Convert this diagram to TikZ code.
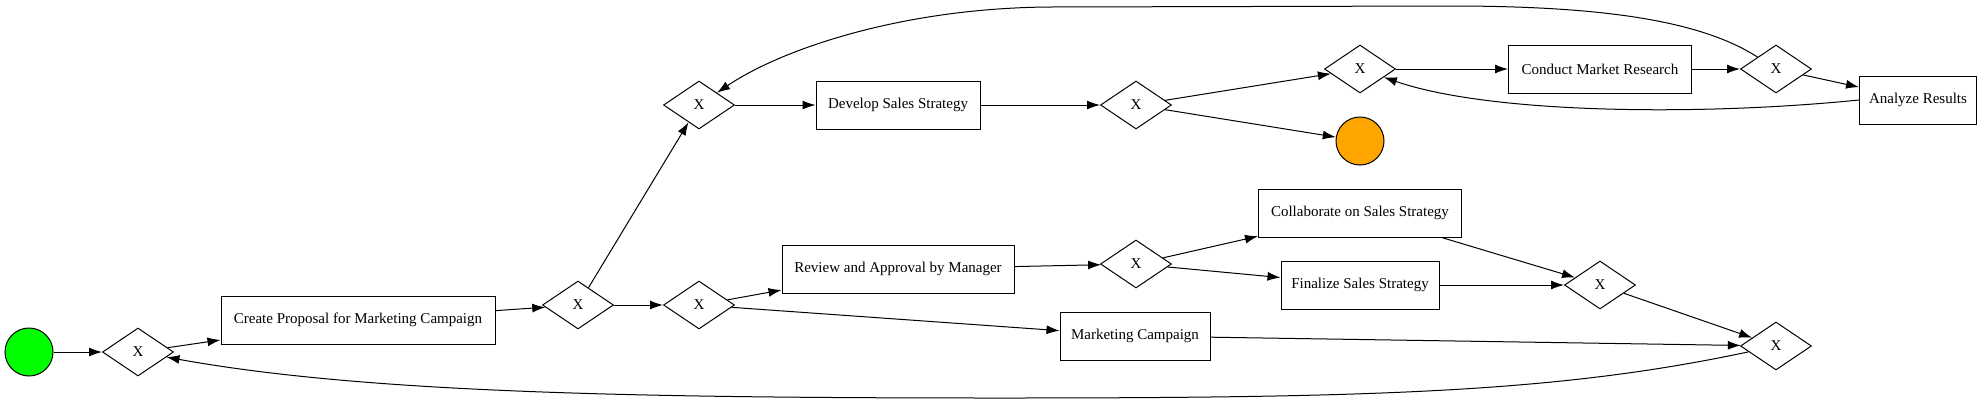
\documentclass[tikz,border=0pt]{standalone}
\usepackage{fontspec}
\setmainfont{Liberation Serif}
\usepackage{tikz}
\usetikzlibrary{shapes.geometric,arrows.meta}
\definecolor{startgreen}{RGB}{0,255,0}
\definecolor{endorange}{RGB}{255,165,0}

\begin{document}
\begin{tikzpicture}[x=0.5pt,y=-0.5pt,>={Latex[length=6.5pt,width=4.5pt]},
	every node/.style={font=\fontsize{7.5}{9}\selectfont},
	task/.style={draw,rectangle,minimum height=24pt,inner sep=0pt,line width=0.5pt},
	gate/.style={draw,diamond,minimum width=35.5pt,minimum height=24pt,inner sep=0pt,line width=0.5pt},
	event/.style={draw,circle,minimum size=24pt,inner sep=0pt,line width=0.5pt},
	flow/.style={->,line width=0.5pt}]
		\useasboundingbox (0,0) rectangle (1983,403);
		
		% the start and end events
		\node[event,fill=startgreen] (st) at (29,352) {};
		\node[event,fill=endorange] (en) at (1360,141) {};
		
		% the gateways
		\node[gate] (g1) at (138,352) {X};
		\node[gate] (g2) at (578,305) {X};
		\node[gate] (g3) at (699,105) {X};
		\node[gate] (g7) at (699,305) {X};
		\node[gate] (g4) at (1136,105) {X};
		\node[gate] (g8) at (1136,264) {X};
		\node[gate] (g5) at (1360,69) {X};
		\node[gate] (g9) at (1600,285) {X};
		\node[gate] (g6) at (1776,69) {X};
		\node[gate] (g10) at (1776,346) {X};
		
		% the tasks
		\node[task,minimum width=137pt] (cp) at (358,320) {Create Proposal for Marketing Campaign};
		\node[task,minimum width=82pt] (ds) at (898,105) {Develop Sales Strategy};
		\node[task,minimum width=116pt] (ra) at (898,269) {Review and Approval by Manager};
		\node[task,minimum width=75pt] (mc) at (1135,336) {Marketing Campaign};
		\node[task,minimum width=101.5pt] (co) at (1360,213) {Collaborate on Sales Strategy};
		\node[task,minimum width=79pt] (fs) at (1360,285) {Finalize Sales Strategy};
		\node[task,minimum width=91.5pt] (cm) at (1600,69) {Conduct Market Research};
		\node[task,minimum width=58.5pt] (ar) at (1918,100) {Analyze Results};
		
		% the straight flows
		\draw[flow] (st) -- (g1);
		\draw[flow] (g1) -- (cp);
		\draw[flow] (cp) -- (g2);
		\draw[flow] (g2) -- (g3);
		\draw[flow] (g2) -- (g7);
		\draw[flow] (g3) -- (ds);
		\draw[flow] (ds) -- (g4);
		\draw[flow] (g4) -- (g5);
		\draw[flow] (g4) -- (en);
		\draw[flow] (g5) -- (cm);
		\draw[flow] (cm) -- (g6);
		\draw[flow] (g6) -- (ar);
		\draw[flow] (g7) -- (ra);
		\draw[flow] (g7) -- (mc);
		\draw[flow] (ra) -- (g8);
		\draw[flow] (g8) -- (co);
		\draw[flow] (g8) -- (fs);
		\draw[flow] (co) -- (g9);
		\draw[flow] (fs) -- (g9);
		\draw[flow] (g9) -- (g10);
		\draw[flow] (mc) -- (g10);
		
		% the loops back
		\draw[flow] (g6) .. controls (1700,20) and (1600,6) .. (1450,6) -- (1050,7) .. controls (900,8) and (780,50) .. (g3);
		\draw[flow] (ar.west) .. controls (1700,116) and (1490,114) .. (g5);
		\draw[flow] (g10) .. controls (1560,392) and (1380,398) .. (1000,398) .. controls (620,398) and (360,392) .. (g1);
		\end{tikzpicture}
\end{document}
